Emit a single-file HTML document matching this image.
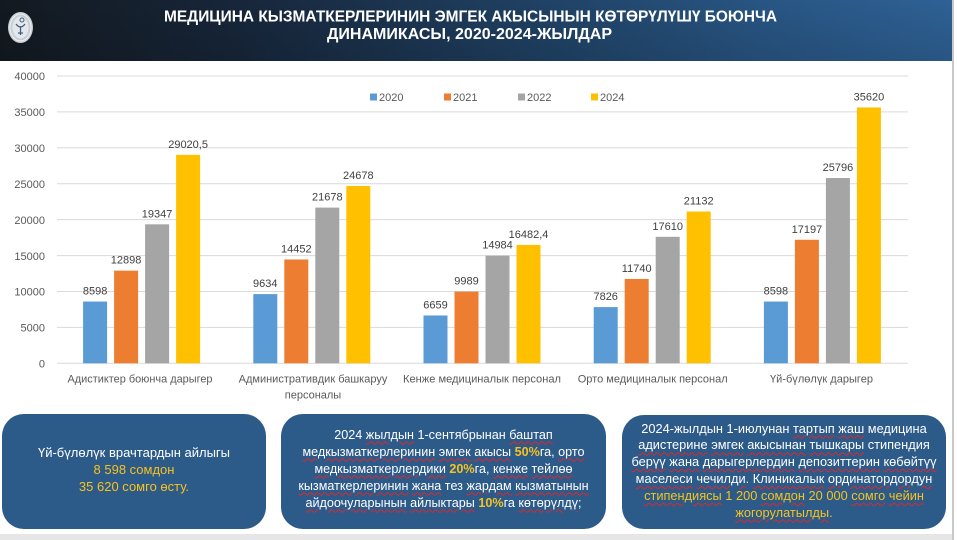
<!DOCTYPE html>
<html>
<head>
<meta charset="utf-8">
<style>
  html, body { margin:0; padding:0; }
  body { width:957px; height:540px; position:relative; overflow:hidden; background:#ffffff;
         font-family:"Liberation Sans","DejaVu Sans",sans-serif; }
  svg { position:absolute; left:0; top:0; }
  .box { position:absolute; background:#2c5a89; border-radius:22px; }
  .txt { position:absolute; color:#ffffff; font-size:13px; text-align:center; white-space:nowrap;
         font-family:"Liberation Sans","DejaVu Sans",sans-serif; }
  .y { color:#f7c21f; }
  .b { font-weight:bold; color:#f7c21f; }
  .u { text-decoration:underline wavy #e0282a; text-decoration-thickness:1px; text-underline-offset:2px; }
</style>
</head>
<body>
<svg width="957" height="540" viewBox="0 0 957 540" xmlns="http://www.w3.org/2000/svg">
  <defs>
    <linearGradient id="hdr" x1="0" y1="0" x2="1" y2="0">
      <stop offset="0" stop-color="#131920"/>
      <stop offset="0.25" stop-color="#17263a"/>
      <stop offset="0.55" stop-color="#1f4062"/>
      <stop offset="0.8" stop-color="#285583"/>
      <stop offset="1" stop-color="#2e6195"/>
    </linearGradient>
    <linearGradient id="hdrv" x1="0" y1="0" x2="0" y2="1">
      <stop offset="0" stop-color="#000" stop-opacity="0"/>
      <stop offset="1" stop-color="#000" stop-opacity="0.12"/>
    </linearGradient>
  </defs>
  <!-- header -->
  <rect x="0" y="0" width="952" height="61" fill="url(#hdr)"/>
  <rect x="0" y="0" width="952" height="61" fill="url(#hdrv)"/>
  <!-- logo -->
  <ellipse cx="20.5" cy="27.5" rx="12.5" ry="15.5" fill="#c7ced6"/>
  <ellipse cx="20.5" cy="27.5" rx="10.5" ry="13.5" fill="none" stroke="#eef1f4" stroke-width="1"/>
  <ellipse cx="20.5" cy="27.5" rx="8" ry="11" fill="#e4e8ec"/>
  <path d="M16 24 Q20.5 30 25 24 M20.5 26 L20.5 35 M18 33 L23 33" stroke="#41607e" stroke-width="1.3" fill="none"/>
  <circle cx="22" cy="20" r="2" fill="none" stroke="#41607e" stroke-width="1"/>
  <!-- title -->
  <text x="470.5" y="21.5" text-anchor="middle" fill="#ffffff" font-family="Liberation Sans, sans-serif" font-weight="bold" font-size="16" textLength="613" lengthAdjust="spacingAndGlyphs">МЕДИЦИНА КЫЗМАТКЕРЛЕРИНИН ЭМГЕК АКЫСЫНЫН КӨТӨРҮЛҮШҮ БОЮНЧА</text>
  <text x="469.5" y="39" text-anchor="middle" fill="#ffffff" font-family="Liberation Sans, sans-serif" font-weight="bold" font-size="16" textLength="285" lengthAdjust="spacingAndGlyphs">ДИНАМИКАСЫ, 2020-2024-ЖЫЛДАР</text>

  <!-- right border & bottom strip -->
  <rect x="952" y="0" width="2" height="540" fill="#c9c9c9"/>
  <rect x="0" y="534" width="952" height="6" fill="#e6e6e6"/>

  <!-- gridlines -->
  <g stroke="#d9d9d9" stroke-width="1">
    <line x1="57" y1="76" x2="908" y2="76"/>
    <line x1="57" y1="111.9" x2="908" y2="111.9"/>
    <line x1="57" y1="147.8" x2="908" y2="147.8"/>
    <line x1="57" y1="183.7" x2="908" y2="183.7"/>
    <line x1="57" y1="219.6" x2="908" y2="219.6"/>
    <line x1="57" y1="255.6" x2="908" y2="255.6"/>
    <line x1="57" y1="291.5" x2="908" y2="291.5"/>
    <line x1="57" y1="327.4" x2="908" y2="327.4"/>
    <line x1="57" y1="363.3" x2="908" y2="363.3"/>
  </g>
  <!-- y axis labels -->
  <g font-family="Liberation Sans, sans-serif" font-size="11" fill="#595959" text-anchor="end">
    <text x="45" y="80">40000</text>
    <text x="45" y="116">35000</text>
    <text x="45" y="152">30000</text>
    <text x="45" y="188">25000</text>
    <text x="45" y="224">20000</text>
    <text x="45" y="260">15000</text>
    <text x="45" y="295.5">10000</text>
    <text x="45" y="331.5">5000</text>
    <text x="45" y="367.5">0</text>
  </g>

  <!-- legend -->
  <g font-family="Liberation Sans, sans-serif" font-size="11" fill="#595959">
    <rect x="370" y="93.5" width="7" height="7" fill="#5b9bd5"/><text x="379" y="101">2020</text>
    <rect x="444" y="93.5" width="7" height="7" fill="#ed7d31"/><text x="453" y="101">2021</text>
    <rect x="518" y="93.5" width="7" height="7" fill="#a5a5a5"/><text x="527" y="101">2022</text>
    <rect x="591" y="93.5" width="7" height="7" fill="#ffc000"/><text x="600" y="101">2024</text>
  </g>

  <!-- bars -->
  <g>
    <rect x="83.1" y="301.54" width="24" height="61.76" fill="#5b9bd5"/>
    <rect x="114.1" y="270.65" width="24" height="92.65" fill="#ed7d31"/>
    <rect x="145.1" y="224.33" width="24" height="138.97" fill="#a5a5a5"/>
    <rect x="176.1" y="154.85" width="24" height="208.45" fill="#ffc000"/>

    <rect x="253.3" y="294.1" width="24" height="69.2" fill="#5b9bd5"/>
    <rect x="284.3" y="259.49" width="24" height="103.81" fill="#ed7d31"/>
    <rect x="315.3" y="207.59" width="24" height="155.71" fill="#a5a5a5"/>
    <rect x="346.3" y="186.04" width="24" height="177.26" fill="#ffc000"/>

    <rect x="423.5" y="315.47" width="24" height="47.83" fill="#5b9bd5"/>
    <rect x="454.5" y="291.55" width="24" height="71.75" fill="#ed7d31"/>
    <rect x="485.5" y="255.67" width="24" height="107.63" fill="#a5a5a5"/>
    <rect x="516.5" y="244.91" width="24" height="118.39" fill="#ffc000"/>

    <rect x="593.7" y="307.09" width="24" height="56.21" fill="#5b9bd5"/>
    <rect x="624.7" y="278.97" width="24" height="84.33" fill="#ed7d31"/>
    <rect x="655.7" y="236.81" width="24" height="126.49" fill="#a5a5a5"/>
    <rect x="686.7" y="211.51" width="24" height="151.79" fill="#ffc000"/>

    <rect x="763.9" y="301.54" width="24" height="61.76" fill="#5b9bd5"/>
    <rect x="794.9" y="239.77" width="24" height="123.53" fill="#ed7d31"/>
    <rect x="825.9" y="178.01" width="24" height="185.29" fill="#a5a5a5"/>
    <rect x="856.9" y="107.44" width="24" height="255.86" fill="#ffc000"/>
  </g>

  <!-- value labels -->
  <g font-family="Liberation Sans, sans-serif" font-size="11" fill="#404040" text-anchor="middle">
    <text x="95.1" y="294.5">8598</text>
    <text x="126.1" y="263.6">12898</text>
    <text x="157.1" y="217.3">19347</text>
    <text x="188.1" y="147.8">29020,5</text>

    <text x="265.3" y="287.1">9634</text>
    <text x="296.3" y="252.5">14452</text>
    <text x="327.3" y="200.6">21678</text>
    <text x="358.3" y="179">24678</text>

    <text x="435.5" y="308.5">6659</text>
    <text x="466.5" y="284.5">9989</text>
    <text x="497.5" y="248.7">14984</text>
    <text x="528.5" y="237.9">16482,4</text>

    <text x="605.7" y="300.1">7826</text>
    <text x="636.7" y="272">11740</text>
    <text x="667.7" y="229.8">17610</text>
    <text x="698.7" y="204.5">21132</text>

    <text x="775.9" y="294.5">8598</text>
    <text x="806.9" y="232.8">17197</text>
    <text x="837.9" y="171">25796</text>
    <text x="868.9" y="100.4">35620</text>
  </g>

  <!-- category labels -->
  <g font-family="Liberation Sans, sans-serif" font-size="11" fill="#595959" text-anchor="middle">
    <text x="140" y="382.3" textLength="145" lengthAdjust="spacingAndGlyphs">Адистиктер боюнча дарыгер</text>
    <text x="313" y="382.3">Административдик башкаруу</text>
    <text x="313" y="398.3">персоналы</text>
    <text x="482" y="382.3" textLength="158" lengthAdjust="spacingAndGlyphs">Кенже медициналык персонал</text>
    <text x="652.7" y="382.3">Орто медициналык персонал</text>
    <text x="821.5" y="382.3" textLength="103" lengthAdjust="spacingAndGlyphs">Үй-бүлөлүк дарыгер</text>
  </g>
</svg>

<!-- bottom boxes -->
<div class="box" style="left:2px; top:414px; width:264px; height:115px;"></div>
<div class="box" style="left:281px; top:414px; width:325px; height:115px;"></div>
<div class="box" style="left:622px; top:415px; width:324px; height:114px;"></div>

<div class="txt" style="left:2px; width:264px; top:443.5px; line-height:17px;">
  <div>Үй-бүлөлүк врачтардын айлыгы</div>
  <div class="y">8 598 сомдон</div>
  <div class="y">35 620 сомго өсту.</div>
</div>

<div class="txt" style="left:281px; width:325px; top:426.5px; line-height:17px; font-size:12.6px;">
  <div>2024 <span class="u">жылдын</span> 1-сентябрынан <span class="u">баштап</span></div>
  <div><span class="u">медкызматкерлеринин</span> <span class="u">эмгек</span> <span class="u">акысы</span> <span class="b">50%</span>га, <span class="u">орто</span></div>
  <div><span class="u">медкызматкерлердики</span> <span class="b">20%</span>га, <span class="u">кенже</span> <span class="u">тейлөө</span></div>
  <div><span class="u">кызматкерлеринин</span> <span class="u">жана</span> тез <span class="u">жардам</span> <span class="u">кызматынын</span></div>
  <div><span class="u">айдоочуларынын</span> <span class="u">айлыктары</span> <span class="b">10%</span>га <span class="u">көтөрүлдү</span>;</div>
</div>

<div class="txt" style="left:622px; width:324px; top:420.6px; line-height:16.8px; font-size:12.8px;">
  <div>2024-жылдын 1-июлунан <span class="u">тартып</span> <span class="u">жаш</span> медицина</div>
  <div><span class="u">адистерине</span> <span class="u">эмгек</span> <span class="u">акысынан</span> <span class="u">тышкары</span> стипендия</div>
  <div><span class="u">берүү</span> <span class="u">жана</span> <span class="u">дарыгерлердин</span> <span class="u">депозиттерин</span> <span class="u">көбөйтүү</span></div>
  <div><span class="u">маселеси</span> <span class="u">чечилди</span>. <span class="u">Клиникалык</span> <span class="u">ординатордордун</span></div>
  <div class="y"><span class="u">стипендиясы</span> 1 200 <span class="u">сомдон</span> 20 000 <span class="u">сомго</span> <span class="u">чейин</span></div>
  <div class="y"><span class="u">жогорулатылды</span>.</div>
</div>
</body>
</html>
